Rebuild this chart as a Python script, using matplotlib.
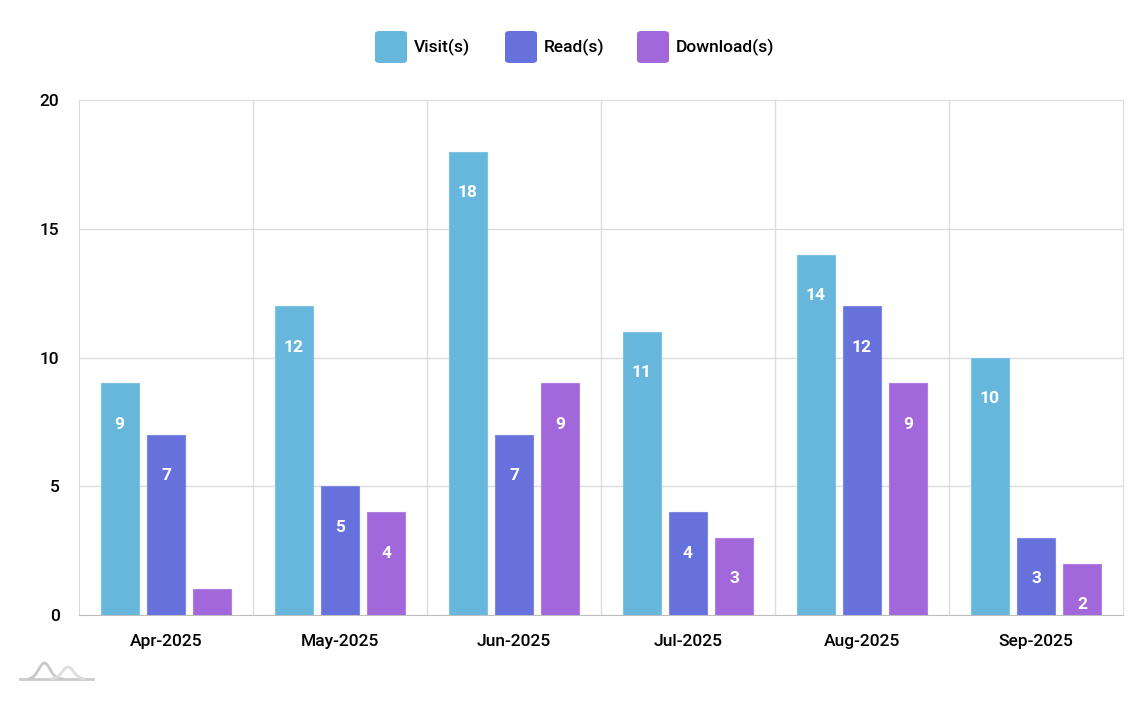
import numpy as np
import matplotlib
matplotlib.use("Agg")
import matplotlib.pyplot as plt
from matplotlib.patches import FancyBboxPatch
from matplotlib.lines import Line2D

plt.rcParams['font.family'] = ['Roboto', 'DejaVu Sans']
plt.rcParams['font.weight'] = 'medium'

months = ['Apr-2025', 'May-2025', 'Jun-2025', 'Jul-2025', 'Aug-2025', 'Sep-2025']
visits = [9, 12, 18, 11, 14, 10]
reads = [7, 5, 7, 4, 12, 3]
downloads = [1, 4, 9, 3, 9, 2]
series_names = ['Visit(s)', 'Read(s)', 'Download(s)']
colors = ['#67b7dc', '#6771dc', '#a367dc']
edges = ['#7fc2e2', '#7f88e2', '#b07fe2']

fig = plt.figure(figsize=(11.41, 7.2), dpi=100)
ax = fig.add_axes([79 / 1141, 1 - 615 / 720, (1123 - 79) / 1141, (615 - 100) / 720])

x = np.arange(len(months))
width = 0.218
step = 0.267
px_per_unit = (615 - 100) / 20.0

for i, (vals, c, ec) in enumerate(zip([visits, reads, downloads], colors, edges)):
    pos = x + (i - 1) * step
    ax.bar(pos, vals, width=width, color=c, edgecolor=ec, linewidth=0.8, zorder=3)
    for p, v in zip(pos, vals):
        h_px = v * px_per_unit
        if h_px > 45:
            ax.annotate(str(v), (p, v), xytext=(0, -41), textcoords='offset pixels',
                        ha='center', va='center', color='white', fontsize=12.5,
                        fontweight='bold', zorder=4)

ax.set_xlim(-0.5, len(months) - 0.5)
ax.set_ylim(0, 20)
ax.set_yticks([0, 5, 10, 15, 20])
ax.set_xticks(x)
ax.set_xticklabels(months)
ax.grid(False)
for yv in [5, 10, 15]:
    ax.axhline(yv, color='#dcdcdc', linewidth=1, zorder=1)
for xv in np.arange(1, len(months)) - 0.5:
    ax.axvline(xv, color='#dcdcdc', linewidth=1, zorder=1)
for side in ['top', 'right', 'left']:
    ax.spines[side].set_color('#dcdcdc')
ax.spines['bottom'].set_color('#bdbdbd')
ax.tick_params(axis='both', which='both', length=0, labelsize=12.5, colors='black')
ax.tick_params(axis='x', pad=14)
ax.tick_params(axis='y', pad=14)

# legend
leg_items = [(375, 'Visit(s)'), (505, 'Read(s)'), (637, 'Download(s)')]
for (lx, name), c in zip(leg_items, colors):
    box = FancyBboxPatch((lx / 1141, 1 - 63 / 720), 32 / 1141, 32 / 720,
                         boxstyle='round,pad=0,rounding_size=0.004',
                         transform=fig.transFigure, facecolor=c, edgecolor='none')
    fig.patches.append(box)
    fig.text((lx + 39) / 1141, 1 - 47 / 720, name, ha='left', va='center', fontsize=12.5)

# small logo mark bottom-left
lx = np.linspace(20, 93, 60)
fig.add_artist(Line2D(lx / 1141, (1 - 679 / 720) * np.ones_like(lx), transform=fig.transFigure,
                      color='#cccccc', linewidth=2))
t = np.linspace(0, 1, 40)
c1x = 30 + 32 * t
c1y = 679 - 16 * np.exp(-((t - 0.45) / 0.25) ** 2)
fig.add_artist(Line2D(c1x / 1141, 1 - c1y / 720, transform=fig.transFigure,
                      color='#c8c8c8', linewidth=2))
c2x = 52 + 32 * t
c2y = 679 - 12 * np.exp(-((t - 0.5) / 0.25) ** 2)
fig.add_artist(Line2D(c2x / 1141, 1 - c2y / 720, transform=fig.transFigure,
                      color='#dddddd', linewidth=2))

fig.savefig('out.png', dpi=100)
